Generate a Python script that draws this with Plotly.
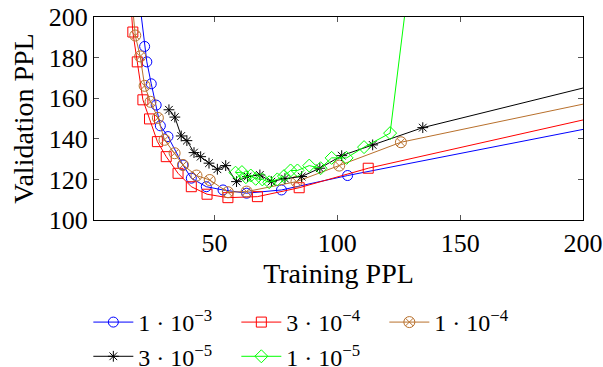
import plotly.graph_objects as go

# ---- data (Training PPL, Validation PPL) ----
names = ["1 · 10<sup>−3</sup>", "3 · 10<sup>−4</sup>", "1 · 10<sup>−4</sup>",
         "3 · 10<sup>−5</sup>", "1 · 10<sup>−5</sup>"]

lr1e3_x = [18.0, 21.6, 22.5, 24.3, 26.3, 28.0, 31.1, 37.2, 40.6, 46.7, 53.5, 63.1, 77.3, 104.2, 210.0]
lr1e3_y = [223.0, 185.5, 177.9, 167.1, 156.6, 146.4, 141.1, 127.1, 120.6, 116.4, 114.8, 113.2, 114.8, 121.9, 147.0]

lr3e4_x = [15.5, 16.8, 18.6, 20.9, 23.6, 26.8, 30.4, 35.2, 40.6, 47.0, 55.5, 67.5, 84.5, 112.6, 210.0]
lr3e4_y = [216.0, 192.6, 177.9, 159.2, 149.8, 138.6, 131.2, 123.0, 116.4, 112.7, 111.0, 111.5, 115.9, 125.5, 152.0]

lr1e4_x = [16.0, 17.8, 19.8, 21.6, 24.0, 27.0, 29.7, 33.8, 37.2, 42.7, 48.1, 55.5, 63.1, 83.4, 100.8, 125.9, 210.0]
lr1e4_y = [214.0, 190.9, 180.6, 166.1, 158.2, 150.3, 139.5, 132.9, 127.1, 121.9, 119.7, 113.7, 114.0, 118.9, 126.8, 138.3, 159.6]

lr3e5_x = [31.5, 33.9, 36.5, 38.8, 41.7, 44.4, 47.8, 51.2, 54.6, 59.0, 63.5, 68.5, 73.2, 78.7, 85.5, 92.9, 101.8, 114.4, 134.8, 210.0]
lr3e5_y = [154.3, 150.7, 141.4, 139.1, 133.2, 131.2, 128.0, 125.0, 126.8, 118.9, 121.4, 122.2, 118.9, 120.4, 121.4, 125.5, 131.7, 137.0, 145.5, 168.0]

lr1e5_x = [58.6, 61.2, 62.8, 64.8, 66.8, 69.5, 72.3, 75.6, 78.3, 81.0, 83.8, 88.6, 93.2, 97.7, 103.8, 110.9, 121.5, 130.0]
lr1e5_y = [123.3, 123.6, 121.1, 121.9, 120.3, 120.0, 118.6, 120.0, 121.6, 124.4, 124.4, 126.8, 125.5, 130.6, 130.6, 135.9, 142.8, 226.0]

x_ticks = [50, 100, 150, 200]
y_ticks = [100, 120, 140, 160, 180, 200]

series = [
    (lr1e3_x, lr1e3_y, "#0000ff", "circle-open", 10),
    (lr3e4_x, lr3e4_y, "#ff0000", "square-open", 10),
    (lr1e4_x, lr1e4_y, "#b8702c", "circle-x-open", 11),
    (lr3e5_x, lr3e5_y, "#000000", "asterisk-open", 9),
    (lr1e5_x, lr1e5_y, "#00ff00", "diamond-open", 10),
]

FONT = "Liberation Serif"

fig = go.Figure()
for name, (xs, ys, col, sym, sz) in zip(names, series):
    fig.add_trace(go.Scatter(
        x=xs, y=ys, name=name, mode="lines+markers",
        line=dict(color=col, width=1),
        marker=dict(symbol=sym, size=sz, color=col, line=dict(color=col, width=1)),
    ))

axis_common = dict(
    showgrid=False, zeroline=False, showline=True, linecolor="#000", linewidth=1,
    mirror="allticks", ticks="inside", ticklen=5, tickcolor="#555", tickwidth=1,
    tickfont=dict(family=FONT, size=26, color="#000"),
    automargin=False, ticklabeloverflow="allow",
)

fig.update_layout(
    width=603, height=367,
    margin=dict(l=94, r=20, t=17, b=147, autoexpand=False),
    paper_bgcolor="white", plot_bgcolor="white",
    font=dict(family=FONT, size=26, color="#000"),
    xaxis=dict(range=[1, 200], tickvals=x_ticks, ticktext=[str(v) for v in x_ticks],
               title=dict(text="Training PPL", font=dict(family=FONT, size=28), standoff=4),
               **axis_common),
    yaxis=dict(range=[100, 200], tickvals=y_ticks, ticktext=[str(v) for v in y_ticks],
               title=dict(text="Validation PPL", font=dict(family=FONT, size=28), standoff=6),
               **axis_common),
    legend=dict(orientation="h", xref="container", yref="container",
                x=0.1465, xanchor="left", y=0.1826, yanchor="top",
                entrywidth=93, entrywidthmode="pixels",
                font=dict(family=FONT, size=24), bgcolor="rgba(0,0,0,0)",
                tracegroupgap=0, itemwidth=40),
    showlegend=True,
)

# remove the default page margin so the 603x367 figure fills the window exactly
fig.write_html("out.html",
               config={"displayModeBar": False},
               post_script="document.body.style.margin='0';document.body.style.overflow='hidden';")
